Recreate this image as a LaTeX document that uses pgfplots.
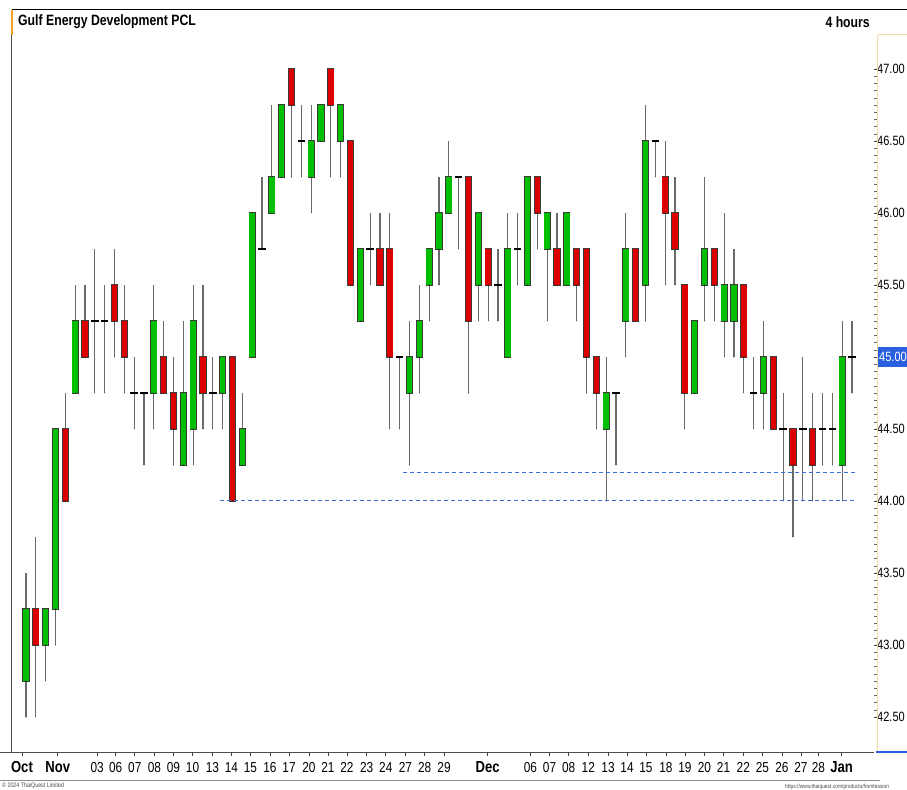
\documentclass[border=0pt]{standalone}
\usepackage{fontspec}
\setmainfont{Liberation Sans}[FakeStretch=0.82]
\usepackage{pgfplots}
\usepackage{pgfplotstable}
\pgfplotsset{compat=1.18}
\definecolor{upg}{HTML}{00BE00}
\definecolor{dnr}{HTML}{DC0000}
\definecolor{edge}{HTML}{3A3A3A}
\definecolor{wick}{HTML}{6A6A6A}
\definecolor{supline}{HTML}{3A6FD8}
\definecolor{pricebl}{HTML}{2A5FE0}
\definecolor{axyel}{HTML}{F0DCA0}
\definecolor{titor}{HTML}{F5A020}

% up (green) candles: index open high low close
\pgfplotstableread{
i o h l c
1 42.75 43.5 42.5 43.25
3 43.0 43.25 42.75 43.25
4 43.25 44.5 43.0 44.5
6 44.75 45.5 44.75 45.25
14 44.75 45.5 44.5 45.25
17 44.25 45.25 44.25 44.75
18 44.5 45.5 44.25 45.25
21 44.75 45.0 44.5 45.0
23 44.25 44.75 44.25 44.5
24 45.0 46.0 45.0 46.0
26 46.0 46.75 46.0 46.25
27 46.25 46.75 46.25 46.75
30 46.25 46.75 46.0 46.5
31 46.5 46.75 46.5 46.75
33 46.5 46.75 46.25 46.75
35 45.25 45.75 45.25 45.75
40 44.75 45.25 44.25 45.0
41 45.0 45.5 44.75 45.25
42 45.5 45.75 45.25 45.75
43 45.75 46.25 45.5 46.0
44 46.0 46.5 46.0 46.25
47 45.5 46.0 45.25 46.0
50 45.0 46.0 45.0 45.75
52 45.5 46.25 45.5 46.25
54 45.75 46.0 45.25 46.0
56 45.5 46.0 45.5 46.0
60 44.5 45.0 44.0 44.75
62 45.25 46.0 45.0 45.75
64 45.5 46.75 45.25 46.5
69 44.75 45.25 44.75 45.25
70 45.5 46.25 45.25 45.75
72 45.25 46.0 45.0 45.5
73 45.25 45.75 45.0 45.5
76 44.75 45.25 44.5 45.0
84 44.25 45.25 44.0 45.0
}\upC

% down (red) candles
\pgfplotstableread{
i o h l c
2 43.25 43.75 42.5 43.0
5 44.5 44.75 44.0 44.0
7 45.25 45.5 45.0 45.0
10 45.5 45.75 45.0 45.25
11 45.25 45.5 44.75 45.0
15 45.0 45.25 44.75 44.75
16 44.75 45.0 44.25 44.5
19 45.0 45.5 44.5 44.75
22 45.0 45.0 44.0 44.0
28 47.0 47.0 46.25 46.75
32 47.0 47.0 46.25 46.75
34 46.5 46.5 45.5 45.5
37 45.75 46.0 45.5 45.5
38 45.75 46.0 44.5 45.0
46 46.25 46.25 44.75 45.25
48 45.75 45.75 45.25 45.5
53 46.25 46.25 45.75 46.0
55 45.75 46.0 45.5 45.5
57 45.75 45.75 45.25 45.5
58 45.75 45.75 44.75 45.0
59 45.0 45.0 44.5 44.75
63 45.75 45.75 45.25 45.25
66 46.25 46.5 45.5 46.0
67 46.0 46.25 45.5 45.75
68 45.5 45.5 44.5 44.75
71 45.75 45.75 45.25 45.5
74 45.5 45.5 44.75 45.0
77 45.0 45.0 44.5 44.5
79 44.5 44.5 43.75 44.25
81 44.5 44.75 44.0 44.25
}\dnC

% doji candles (open = close = p)
\pgfplotstableread{
i p h l
8 45.25 45.75 44.75
9 45.25 45.5 44.75
12 44.75 45.0 44.5
13 44.75 44.75 44.25
20 44.75 45.0 44.5
25 45.75 46.25 45.75
29 46.5 46.75 46.25
36 45.75 46.0 45.5
39 45.0 45.0 44.5
45 46.25 46.25 45.75
49 45.5 45.75 45.25
51 45.75 46.0 45.5
61 44.75 44.75 44.25
65 46.5 46.5 46.25
75 44.75 45.0 44.5
78 44.5 44.75 44.0
80 44.5 45.0 44.0
82 44.5 44.75 44.25
83 44.5 44.75 44.25
85 45.0 45.25 44.75
}\dojiC

\pgfplotsset{
  nomark/.style={only marks, mark=*, mark size=0.01pt, mark options={draw=none, fill=none}, forget plot},
  wickstyle/.style={nomark,
    error bars/.cd, y dir=plus, y explicit, error mark=none,
    error bar style={draw=wick, line width=1.1bp, solid}},
  edgestyle/.style={nomark,
    error bars/.cd, y dir=plus, y explicit, error mark=none,
    error bar style={draw=edge, line width=7.2bp, solid}},
  fillstyle/.style={nomark,
    error bars/.cd, y dir=plus, y explicit, error mark=none,
    error bar style={draw=#1, line width=5.6bp, solid}},
}

\begin{document}
\begin{tikzpicture}
\fill[white] (0,0) rectangle (907bp,790bp);
\begin{axis}[
  at={(12bp,38bp)}, anchor=south west,
  scale only axis, width=862bp, height=742bp,
  xmin=-0.424, xmax=87.24,
  ymin=42.257, ymax=47.41,
  axis line style={draw=none},
  clip mode=individual,
  ytick={42.5,43,43.5,44,44.5,45,45.5,46,46.5,47},
  yticklabels={42.50,43.00,43.50,44.00,44.50,,45.50,46.00,46.50,47.00},
  ytick pos=right, yticklabel pos=right,
  minor y tick num=9,
  tick align=outside,
  major tick length=4bp, minor tick length=2.5bp,
  every tick/.style={draw=black!75, line width=0.6bp},
  minor tick style={draw=black!60, line width=0.5bp},
  yticklabel style={font=\fontsize{13.5}{13.5}\selectfont, anchor=west, xshift=-2bp, inner xsep=1bp},
  xtick={0.59,4.23,8.24,10.12,12.06,14.06,16.0,17.94,19.95,21.89,23.83,25.81,27.75,29.78,31.71,33.64,35.65,37.59,39.59,41.54,43.51,47.94,52.29,54.24,56.18,58.18,60.19,62.12,64.05,66.07,68.01,70.0,71.94,73.95,75.89,77.88,79.81,81.59,83.94},
  xticklabels={{\fontsize{16}{16}\selectfont\bfseries Oct},{\fontsize{16}{16}\selectfont\bfseries Nov},03,06,07,08,09,10,13,14,15,16,17,20,21,22,23,24,27,28,29,{\fontsize{16}{16}\selectfont\bfseries Dec},06,07,08,12,13,14,15,18,19,20,21,22,25,26,27,28,{\fontsize{16}{16}\selectfont\bfseries Jan}},
  xtick pos=bottom,
  xticklabel style={font=\fontsize{14.5}{14.5}\selectfont, anchor=base, yshift=-16bp},
]
% wicks
\addplot[wickstyle] table[x=i, y=l, y error plus expr=\thisrow{h}-\thisrow{l}] {\upC};
\addplot[wickstyle] table[x=i, y=l, y error plus expr=\thisrow{h}-\thisrow{l}] {\dnC};
\addplot[wickstyle] table[x=i, y=l, y error plus expr=\thisrow{h}-\thisrow{l}] {\dojiC};
% bodies: outline then fill
\addplot[edgestyle] table[x=i, y expr=\thisrow{o}-0.005, y error plus expr=\thisrow{c}-\thisrow{o}+0.01] {\upC};
\addplot[fillstyle=upg] table[x=i, y=o, y error plus expr=\thisrow{c}-\thisrow{o}] {\upC};
\addplot[edgestyle] table[x=i, y expr=\thisrow{c}-0.005, y error plus expr=\thisrow{o}-\thisrow{c}+0.01] {\dnC};
\addplot[fillstyle=dnr] table[x=i, y=c, y error plus expr=\thisrow{o}-\thisrow{c}] {\dnC};
% doji ticks
\addplot[only marks, mark=-, mark size=3.8bp, mark options={draw=black, line width=1.3bp}] table[x=i, y=p] {\dojiC};
% support lines
\addplot[supline, line width=1bp, dash pattern=on 4bp off 3bp] coordinates {(20.73,44.003) (85.5,44.003)};
\addplot[supline, line width=1bp, dash pattern=on 4bp off 3bp] coordinates {(39.34,44.2) (85.5,44.2)};
% current price label
\node[anchor=west, fill=pricebl, text=white, inner xsep=1.5bp, inner ysep=0bp, minimum height=20bp,
  font=\fontsize{13.5}{13.5}\selectfont] at (axis cs:87.24,45) [xshift=3.5bp] {45.00};
\end{axis}
% frame decorations
\draw[black, line width=1bp] (12bp,780bp) -- (907bp,780bp);
\draw[titor, line width=2bp] (12bp,780bp) -- (12bp,755bp);
\draw[black!70, line width=0.7bp] (11.5bp,755bp) -- (11.5bp,38bp);
\draw[axyel, line width=1.3bp] (877.5bp,755bp) -- (877.5bp,38bp);
\draw[axyel, line width=1bp] (877.5bp,755bp) -- (907bp,755bp);
\draw[black!70, line width=0.8bp] (0bp,38bp) -- (874bp,38bp);
\draw[pricebl, line width=1.2bp] (876bp,38bp) -- (907bp,38bp);
\draw[black!45, line width=0.8bp] (0bp,10bp) -- (880bp,10bp);
\node[anchor=west, inner sep=0pt, font=\fontsize{15}{15}\selectfont\bfseries] at (18bp,768bp) {Gulf Energy Development PCL};
\node[anchor=east, inner sep=0pt, font=\fontsize{15}{15}\selectfont\bfseries] at (870bp,768bp) {4 hours};
\node[anchor=west, inner sep=0pt, font=\fontsize{6.5}{6.5}\selectfont, text=black!70] at (2bp,4bp) {© 2024 ThaiQuest Limited};
\node[anchor=west, inner sep=0pt, font=\fontsize{6}{6}\selectfont, text=black!70] at (785bp,3.5bp) {https://www.thaiquest.com/products/fromfession};
\pgfresetboundingbox
\path[use as bounding box] (0,0) rectangle (907bp,790bp);
\end{tikzpicture}
\end{document}
